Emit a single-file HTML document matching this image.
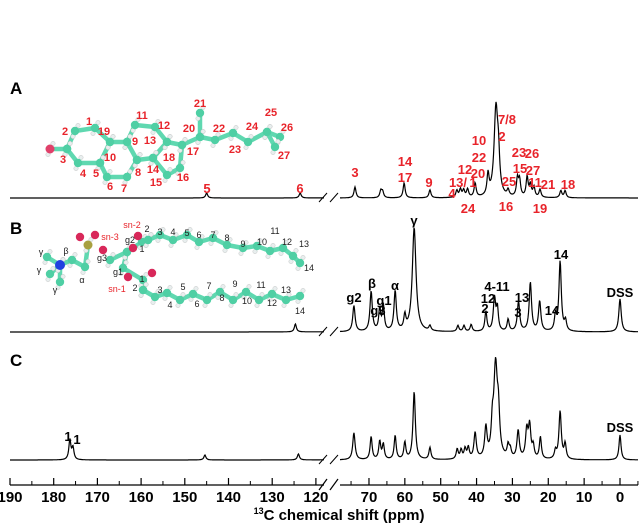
<!DOCTYPE html>
<html><head><meta charset="utf-8"><style>
body{margin:0;background:#fff}
svg{display:block;font-family:"Liberation Sans",Arial,sans-serif}
.red{fill:#e8232a;font-size:13px;font-weight:bold}
.mr{fill:#e8232a;font-size:11px;font-weight:bold}
.bl{fill:#222;font-size:9px}
.bk{fill:#000;font-size:13px;font-weight:bold}
.tk{fill:#000;font-size:15px;font-weight:bold}
</style></head><body>
<svg id="chart" width="640" height="527" viewBox="0 0 640 527">
<g id="mols"></g>
<g id="spectra"></g>
<g id="axis"></g>
</svg>
<script>
// ---- data ----
const ppmA = [145, 123.6, 73.9, 66.7, 66.2, 60.2, 53.0, 45.5, 44.5, 43.6, 42.5, 40.4, 36.8, 34.6, 33.9, 31.2, 28.6, 28.0, 25.9, 25.0, 24.0, 22.3, 16.5, 15.3];
const hA   = [5, 5, 11, 7, 6, 15, 8, 7, 8, 7, 8, 14, 21, 88, 30, 6, 18, 16, 20, 12, 10, 8, 7, 7];
const ppmB = [124.7, 74.2, 69.4, 67.0, 66.0, 62.7, 60.0, 57.4, 53.0, 45.2, 43.5, 41.5, 37.4, 35.0, 34.2, 31.2, 28.3, 25.0, 22.4, 18.0, 16.7, 15.2, 0];
const hB   = [8, 26, 40, 22, 25, 40, 14, 104, 5, 6, 6, 7, 20, 33, 22, 12, 30, 49, 30, 15, 70, 10, 33];
const ppmC = [176.3, 175.6, 145.4, 124, 74.2, 69.4, 67.0, 66.0, 62.7, 60.0, 57.4, 53.0, 45.4, 44.3, 43.2, 42.3, 40.4, 37.4, 35.6, 34.7, 33.9, 31.2, 30.6, 28.4, 26.0, 25.2, 24.2, 22.2, 18.0, 16.7, 15.3, 0];
const hC   = [20, 12, 5, 6, 27, 23, 18, 15, 24, 17, 68, 12, 10, 9, 10, 11, 26, 30, 25, 92, 35, 12, 8, 28, 28, 32, 12, 22, 8, 48, 15, 25];
const tickMajorLeft = [190,180,170,160,150,140,130,120];
const tickMajorRight = [70,60,50,40,30,20,10,0];
const tickMinor = [185,175,165,155,145,135,125,75,65,55,45,35,25,15,5,-5];

// ---- axis ----
const AX_Y = 485;
function xOf(p){ return p >= 100 ? 10 + (190 - p) * 4.37 : 620 - p * 3.586; }
function ppmOf(x, left){ return left ? 190 - (x - 10) / 4.37 : (620 - x) / 3.586; }
const NS = "http://www.w3.org/2000/svg";
function mk(tag, attrs, parent){ const e = document.createElementNS(NS, tag); for (const k in attrs) e.setAttribute(k, attrs[k]); parent.appendChild(e); return e; }

function spectrum(ppm, h, base, name){
  const g = document.getElementById('spectra');
  [[true, 10, 324], [false, 340, 638]].forEach(([left, x0, x1], si) => {
    let d = '';
    for (let x = x0; x <= x1; x += 0.5){
      const p = ppmOf(x, left);
      let s = 0;
      for (let i = 0; i < ppm.length; i++){
        const px = xOf(ppm[i]);
        const w = h[i] > 80 ? 2.2 : (h[i] > 25 ? 1.4 : 1.2);
        s += h[i] * w * w / ((x - px) * (x - px) + w * w);
      }
      d += (x === x0 ? 'M' : 'L') + x.toFixed(1) + ' ' + (base - s).toFixed(1);
    }
    const path = mk('path', {d: d, fill: 'none', stroke: '#000', 'stroke-width': 1.2}, g);
    
    
  });
  [[319, 327], [330, 338]].forEach(([a, b]) => {
    const br = mk('line', {x1: a, y1: base + 4, x2: b, y2: base - 5, stroke: '#000', 'stroke-width': 1}, g);
    
    
  });
}
spectrum(ppmA, hA, 198, 'spectrum-a');
spectrum(ppmB, hB, 332, 'spectrum-b');
spectrum(ppmC, hC, 460, 'spectrum-c');

const ax = document.getElementById('axis');
[[10, 324], [340, 638]].forEach(([a, b]) => {
  const l = mk('line', {x1: a, y1: AX_Y, x2: b, y2: AX_Y, stroke: '#000', 'stroke-width': 1.3}, ax);
  
  
});
[[319, 327], [330, 338]].forEach(([a, b]) => {
  const br = mk('line', {x1: a, y1: AX_Y + 5, x2: b, y2: AX_Y - 6, stroke: '#000', 'stroke-width': 1.2}, ax);
  
  
});
tickMajorLeft.concat(tickMajorRight).forEach(v => {
  const x = xOf(v);
  const t = mk('line', {x1: x, y1: AX_Y, x2: x, y2: AX_Y - 7, stroke: '#000', 'stroke-width': 1.2}, ax);
  
  
  const lab = mk('text', {x: x, y: AX_Y + 17, 'text-anchor': 'middle', class: 'tk'}, ax);
  lab.textContent = v;
  
  
});
tickMinor.forEach(v => {
  const x = xOf(v);
  const t = mk('line', {x1: x, y1: AX_Y, x2: x, y2: AX_Y - 4, stroke: '#000', 'stroke-width': 1}, ax);
  
  
});

// ---- molecules ----
const mg = document.getElementById('mols');
function chain(pts, name){
  const g = mk('g', {}, mg);
  
  
  mk('polyline', {points: pts.map(p => p.join(',')).join(' '), fill: 'none', stroke: '#5fd8b0', 'stroke-width': 4.5, 'stroke-linejoin': 'round'}, g);
  pts.forEach((p, i) => {
    mk('circle', {cx: p[0] + 3, cy: p[1] - 5.5, r: 2.2, fill: '#e8eeee', stroke: '#bbb', 'stroke-width': 0.4}, g);
    mk('circle', {cx: p[0] - 2, cy: p[1] + 5.5, r: 2.2, fill: '#e8eeee', stroke: '#bbb', 'stroke-width': 0.4}, g);
    mk('circle', {cx: p[0], cy: p[1], r: 4.2, fill: '#4fcfa4'}, g);
  });
  return g;
}
chain([[50,149],[67,149]], 'mol-a-c3-o-bond');
chain([[67,149],[75,131],[95,128],[110,142],[100,163],[78,163],[67,149]], 'mol-a-ring-1');
chain([[110,142],[127,142],[137,160],[127,177],[107,177],[100,163]], 'mol-a-ring-2');
chain([[127,142],[135,125],[155,127],[167,142],[153,158],[137,160]], 'mol-a-ring-3');
chain([[167,142],[182,145],[180,168],[167,175],[153,158]], 'mol-a-ring-4');
chain([[182,145],[200,137],[215,140],[233,133],[248,142],[267,132],[280,137]], 'mol-a-side-chain');
chain([[200,137],[200,113]], 'mol-a-c21');
chain([[267,132],[275,147]], 'mol-a-c27');
const oA = mk('circle', {cx: 50, cy: 149, r: 4.5, fill: '#e0406a'}, mg);


chain([[148,240],[160,235],[173,240],[187,235],[199,242],[213,238],[227,245],[243,248],[257,246],[270,251],[283,248],[293,256],[300,263]], 'mol-b-sn2-chain');
chain([[143,290],[155,297],[167,293],[180,300],[193,294],[207,300],[220,292],[233,300],[246,292],[259,300],[272,294],[286,300],[300,296]], 'mol-b-sn1-chain');
chain([[110,260],[127,252],[123,268],[143,280],[143,290]], 'mol-b-glycerol');
chain([[127,252],[142,242],[148,240]], 'mol-b-sn2-ester');
chain([[47,257],[60,265],[72,260],[85,267],[88,245]], 'mol-b-choline');
chain([[60,265],[50,274]], 'mol-b-gamma-2');
chain([[60,265],[60,282]], 'mol-b-gamma-3');
[[80,237],[95,235],[103,250],[133,248],[138,236],[128,277],[152,273]].forEach(p => {
  const o = mk('circle', {cx: p[0], cy: p[1], r: 4.2, fill: '#d8285a'}, mg);
  
  
});
const pAtom = mk('circle', {cx: 88, cy: 245, r: 4.5, fill: '#a8a040'}, mg);


const nAtom = mk('circle', {cx: 60, cy: 265, r: 5, fill: '#2040e0'}, mg);


</script>
<svg width="640" height="527" style="position:absolute;left:0;top:0">
<g font-family="Liberation Sans, Arial, sans-serif">
<text x="10" y="94" font-size="17" font-weight="bold">A</text>
<text x="10" y="234" font-size="17" font-weight="bold">B</text>
<text x="10" y="366" font-size="17" font-weight="bold">C</text>
<text x="339" y="520" text-anchor="middle" font-size="15" font-weight="bold"><tspan font-size="9" dy="-6">13</tspan><tspan dy="6">C chemical shift (ppm)</tspan></text>
<g>
<text class="red" x="207" y="193" text-anchor="middle">5</text>
<text class="red" x="300" y="193" text-anchor="middle">6</text>
<text class="red" x="355" y="177" text-anchor="middle">3</text>
<text class="red" x="405" y="166" text-anchor="middle">14</text>
<text class="red" x="405" y="182" text-anchor="middle">17</text>
<text class="red" x="429" y="187" text-anchor="middle">9</text>
<text class="red" x="479" y="145" text-anchor="middle">10</text>
<text class="red" x="479" y="162" text-anchor="middle">22</text>
<text class="red" x="465" y="174" text-anchor="middle">12</text>
<text class="red" x="478" y="178" text-anchor="middle">20</text>
<text class="red" x="458" y="187" text-anchor="middle">13/</text>
<text class="red" x="473" y="187" text-anchor="middle">1</text>
<text class="red" x="452" y="198" text-anchor="middle">4</text>
<text class="red" x="468" y="213" text-anchor="middle">24</text>
<text class="red" x="506" y="211" text-anchor="middle">16</text>
<text class="red" x="540" y="213" text-anchor="middle">19</text>
<text class="red" x="507" y="124" text-anchor="middle">7/8</text>
<text class="red" x="502" y="141" text-anchor="middle">2</text>
<text class="red" x="519" y="157" text-anchor="middle">23</text>
<text class="red" x="532" y="158" text-anchor="middle">26</text>
<text class="red" x="520" y="173" text-anchor="middle">15</text>
<text class="red" x="533" y="175" text-anchor="middle">27</text>
<text class="red" x="509" y="186" text-anchor="middle">25</text>
<text class="red" x="535" y="187" text-anchor="middle">11</text>
<text class="red" x="548" y="189" text-anchor="middle">21</text>
<text class="red" x="568" y="189" text-anchor="middle">18</text>
</g>
<g text-anchor="middle">
<text class="mr" x="89" y="125">1</text><text class="mr" x="65" y="135">2</text><text class="mr" x="104" y="135">19</text>
<text class="mr" x="63" y="163">3</text><text class="mr" x="110" y="161">10</text><text class="mr" x="83" y="177">4</text>
<text class="mr" x="96" y="177">5</text><text class="mr" x="110" y="190">6</text><text class="mr" x="124" y="192">7</text>
<text class="mr" x="135" y="145">9</text><text class="mr" x="142" y="119">11</text><text class="mr" x="164" y="129">12</text>
<text class="mr" x="150" y="144">13</text><text class="mr" x="189" y="132">20</text><text class="mr" x="200" y="107">21</text>
<text class="mr" x="219" y="132">22</text><text class="mr" x="252" y="130">24</text><text class="mr" x="271" y="116">25</text>
<text class="mr" x="287" y="131">26</text><text class="mr" x="235" y="153">23</text><text class="mr" x="193" y="155">17</text>
<text class="mr" x="169" y="161">18</text><text class="mr" x="138" y="176">8</text><text class="mr" x="153" y="173">14</text>
<text class="mr" x="156" y="186">15</text><text class="mr" x="183" y="181">16</text><text class="mr" x="284" y="159">27</text>
</g>
<g text-anchor="middle">
<text class="bl" x="132" y="228" style="fill:#e8232a">sn-2</text>
<text class="bl" x="110" y="240" style="fill:#e8232a">sn-3</text>
<text class="bl" x="117" y="292" style="fill:#e8232a">sn-1</text>
<text class="bl" x="130" y="243">g2</text><text class="bl" x="102" y="261">g3</text><text class="bl" x="118" y="275">g1</text>
<text class="bl" x="142" y="252">1</text><text class="bl" x="142" y="282">1</text><text class="bl" x="147" y="232">2</text>
<text class="bl" x="160" y="235">3</text><text class="bl" x="173" y="235">4</text><text class="bl" x="187" y="236">5</text>
<text class="bl" x="199" y="238">6</text><text class="bl" x="213" y="238">7</text><text class="bl" x="227" y="241">8</text>
<text class="bl" x="243" y="247">9</text><text class="bl" x="262" y="245">10</text><text class="bl" x="275" y="234">11</text>
<text class="bl" x="287" y="245">12</text><text class="bl" x="304" y="247">13</text><text class="bl" x="309" y="271">14</text>
<text class="bl" x="135" y="291">2</text><text class="bl" x="160" y="293">3</text><text class="bl" x="170" y="308">4</text>
<text class="bl" x="183" y="290">5</text><text class="bl" x="197" y="307">6</text><text class="bl" x="209" y="289">7</text>
<text class="bl" x="222" y="301">8</text><text class="bl" x="235" y="287">9</text><text class="bl" x="247" y="304">10</text>
<text class="bl" x="261" y="288">11</text><text class="bl" x="272" y="306">12</text><text class="bl" x="286" y="293">13</text>
<text class="bl" x="300" y="314">14</text>
<text class="bl" x="41" y="255" font-size="11">γ</text><text class="bl" x="39" y="273">γ</text><text class="bl" x="55" y="293">γ</text>
<text class="bl" x="66" y="254">β</text><text class="bl" x="82" y="283">α</text>
</g>
<g text-anchor="middle">
<text class="bk" x="414" y="225" font-size="15">γ</text>
<text class="bk" x="372" y="288" font-size="15">β</text>
<text class="bk" x="395" y="290" font-size="15">α</text>
<text class="bk" x="354" y="302">g2</text>
<text class="bk" x="384" y="305">g1</text>
<text class="bk" x="378" y="315">g3</text>
<text class="bk" x="497" y="291">4-11</text>
<text class="bk" x="488" y="303">12</text>
<text class="bk" x="485" y="313">2</text>
<text class="bk" x="518" y="317">3</text>
<text class="bk" x="522" y="302">13</text>
<text class="bk" x="552" y="315">14</text>
<text class="bk" x="561" y="259">14</text>
<text class="bk" x="620" y="297" font-size="9">DSS</text>
</g>
<g text-anchor="middle">
<text class="bk" x="68" y="441" font-weight="normal">1</text>
<text class="bk" x="77" y="444" font-weight="normal">1</text>
<text class="bk" x="620" y="432" font-size="9">DSS</text>
</g>
</g></svg>
</body></html>
